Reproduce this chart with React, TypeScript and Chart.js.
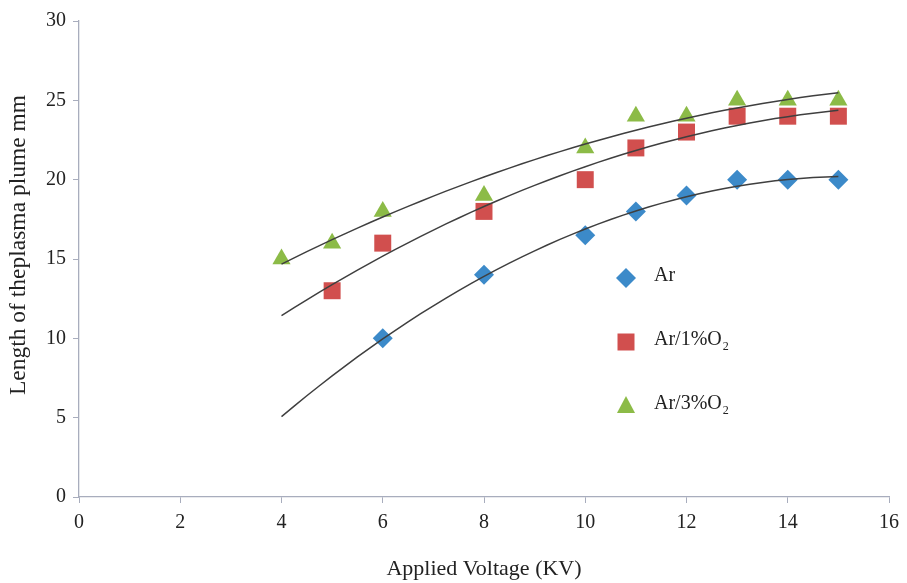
import React, { useEffect, useRef } from "react";
import { Chart, registerables } from "chart.js";

Chart.register(...registerables);

const arX = [6, 8, 10, 11, 12, 13, 14, 15];
const arY = [10, 14, 16.5, 18, 19, 20, 20, 20];
const ar1X = [5, 6, 8, 10, 11, 12, 13, 14, 15];
const ar1Y = [13, 16, 18, 20, 22, 23, 24, 24, 24];
const ar3X = [4, 5, 6, 8, 10, 11, 12, 13, 14, 15];
const ar3Y = [15, 16, 18, 19, 22, 24, 24, 25, 25, 25];
const trendStart = 4;
const trendEnd = 15;
const xTitle = "Applied Voltage (KV)";
const yTitle = "Length of theplasma plume mm";

const BLUE = "#3C8AC9";
const RED = "#D14F4E";
const GREEN = "#8CBB47";
const FONT = "'Liberation Serif', 'Times New Roman', serif";

function quadFit(xs: number[], ys: number[]) {
  let s0 = 0, s1 = 0, s2 = 0, s3 = 0, s4 = 0, t0 = 0, t1 = 0, t2 = 0;
  for (let i = 0; i < xs.length; i++) {
    const x = xs[i], y = ys[i];
    s0 += 1; s1 += x; s2 += x * x; s3 += x * x * x; s4 += x * x * x * x;
    t0 += y; t1 += x * y; t2 += x * x * y;
  }
  const M = [
    [s0, s1, s2, t0],
    [s1, s2, s3, t1],
    [s2, s3, s4, t2],
  ];
  for (let i = 0; i < 3; i++) {
    for (let k = i + 1; k < 3; k++) {
      const f = M[k][i] / M[i][i];
      for (let j = i; j < 4; j++) M[k][j] -= f * M[i][j];
    }
  }
  const r = [0, 0, 0];
  for (let i = 2; i >= 0; i--) {
    let s = M[i][3];
    for (let j = i + 1; j < 3; j++) s -= M[i][j] * r[j];
    r[i] = s / M[i][i];
  }
  return (x: number) => r[0] + r[1] * x + r[2] * x * x;
}

function trend(xs: number[], ys: number[]) {
  const f = quadFit(xs, ys);
  const out: { x: number; y: number }[] = [];
  for (let x = trendStart; x <= trendEnd + 1e-9; x += 0.25) out.push({ x, y: f(x) });
  return out;
}

function pts(xs: number[], ys: number[]) {
  return xs.map((x, i) => ({ x, y: ys[i] }));
}

function drawMarker(ctx: CanvasRenderingContext2D, kind: string, x: number, y: number, color: string) {
  ctx.save();
  ctx.fillStyle = color;
  ctx.beginPath();
  if (kind === "diamond") {
    ctx.moveTo(x, y - 10); ctx.lineTo(x + 10, y); ctx.lineTo(x, y + 10); ctx.lineTo(x - 10, y);
  } else if (kind === "square") {
    ctx.rect(x - 8.5, y - 8.5, 17, 17);
  } else {
    ctx.moveTo(x, y - 10); ctx.lineTo(x + 9, y + 7); ctx.lineTo(x - 9, y + 7);
  }
  ctx.closePath();
  ctx.fill();
  ctx.restore();
}

const textPlugin = {
  id: "customText",
  afterDraw(chart: any) {
    const ctx = chart.ctx as CanvasRenderingContext2D;
    const area = chart.chartArea;
    const mx = area.left + 547;
    const tx = area.left + 575;
    const items = [
      { kind: "diamond", color: BLUE, text: "Ar", sub: "", dy: 257 },
      { kind: "square", color: RED, text: "Ar/1%O", sub: "2", dy: 321 },
      { kind: "triangle", color: GREEN, text: "Ar/3%O", sub: "2", dy: 385 },
    ];
    ctx.save();
    ctx.textBaseline = "middle";
    ctx.textAlign = "left";
    items.forEach((it) => {
      const y = area.top + it.dy;
      drawMarker(ctx, it.kind, mx, y, it.color);
      ctx.font = `20px ${FONT}`;
      ctx.fillStyle = "#222";
      ctx.fillText(it.text, tx, y - 2);
      if (it.sub) {
        const w = ctx.measureText(it.text).width;
        ctx.font = `12px ${FONT}`;
        ctx.fillText(it.sub, tx + w + 1, y + 5);
      }
    });
    ctx.fillStyle = "#222";
    ctx.textAlign = "center";
    ctx.font = `22px ${FONT}`;
    ctx.fillText(xTitle, (area.left + area.right) / 2, 569);
    ctx.translate(19, 245);
    ctx.rotate(-Math.PI / 2);
    ctx.font = `23.5px ${FONT}`;
    ctx.fillText(yTitle, 0, 0);
    ctx.restore();
  },
};

export default function App() {
  const ref = useRef<HTMLCanvasElement>(null);
  useEffect(() => {
    if (!ref.current) return;
    const lineDs = (data: any) => ({
      type: "line" as const,
      data,
      borderColor: "#3F3F3F",
      borderWidth: 1.5,
      pointRadius: 0,
      fill: false,
      tension: 0,
    });
    const chart = new Chart(ref.current, {
      type: "scatter",
      data: {
        datasets: [
          lineDs(trend(arX, arY)),
          lineDs(trend(ar1X, ar1Y)),
          lineDs(trend(ar3X, ar3Y)),
          { label: "Ar", data: pts(arX, arY), pointStyle: "rectRot", pointRadius: 10, backgroundColor: BLUE, borderColor: BLUE, borderWidth: 0 },
          { label: "Ar/1%O2", data: pts(ar1X, ar1Y), pointStyle: "rect", pointRadius: 12, backgroundColor: RED, borderColor: RED, borderWidth: 0 },
          { label: "Ar/3%O2", data: pts(ar3X, ar3Y), pointStyle: "triangle", pointRadius: 10.5, backgroundColor: GREEN, borderColor: GREEN, borderWidth: 0 },
        ] as any,
      },
      options: {
        animation: false,
        responsive: false,
        events: [],
        layout: { padding: { top: 21, right: 18, left: 0, bottom: 0 } },
        plugins: { legend: { display: false }, tooltip: { enabled: false } },
        scales: {
          x: {
            type: "linear",
            min: 0,
            max: 16,
            ticks: { stepSize: 2, color: "#222", font: { family: FONT, size: 20 }, padding: 8 },
            grid: { drawOnChartArea: false, drawTicks: true, tickLength: 6, color: "#A8ADBD" },
            border: { color: "#A8ADBD", width: 1.3 },
            afterFit: (s: any) => { s.height = 86; },
          },
          y: {
            type: "linear",
            min: 0,
            max: 30,
            ticks: { stepSize: 5, color: "#222", font: { family: FONT, size: 20 }, padding: 7 },
            grid: { drawOnChartArea: false, drawTicks: true, tickLength: 6, color: "#A8ADBD" },
            border: { color: "#A8ADBD", width: 1.3 },
            afterFit: (s: any) => { s.width = 79; },
          },
        },
      },
      plugins: [textPlugin],
    });
    return () => chart.destroy();
  }, []);
  return (
    <div style={{ position: "fixed", left: 0, top: 0, width: 907, height: 583, background: "#fff" }}>
      <canvas ref={ref} width={907} height={583} style={{ display: "block" }} />
    </div>
  );
}
